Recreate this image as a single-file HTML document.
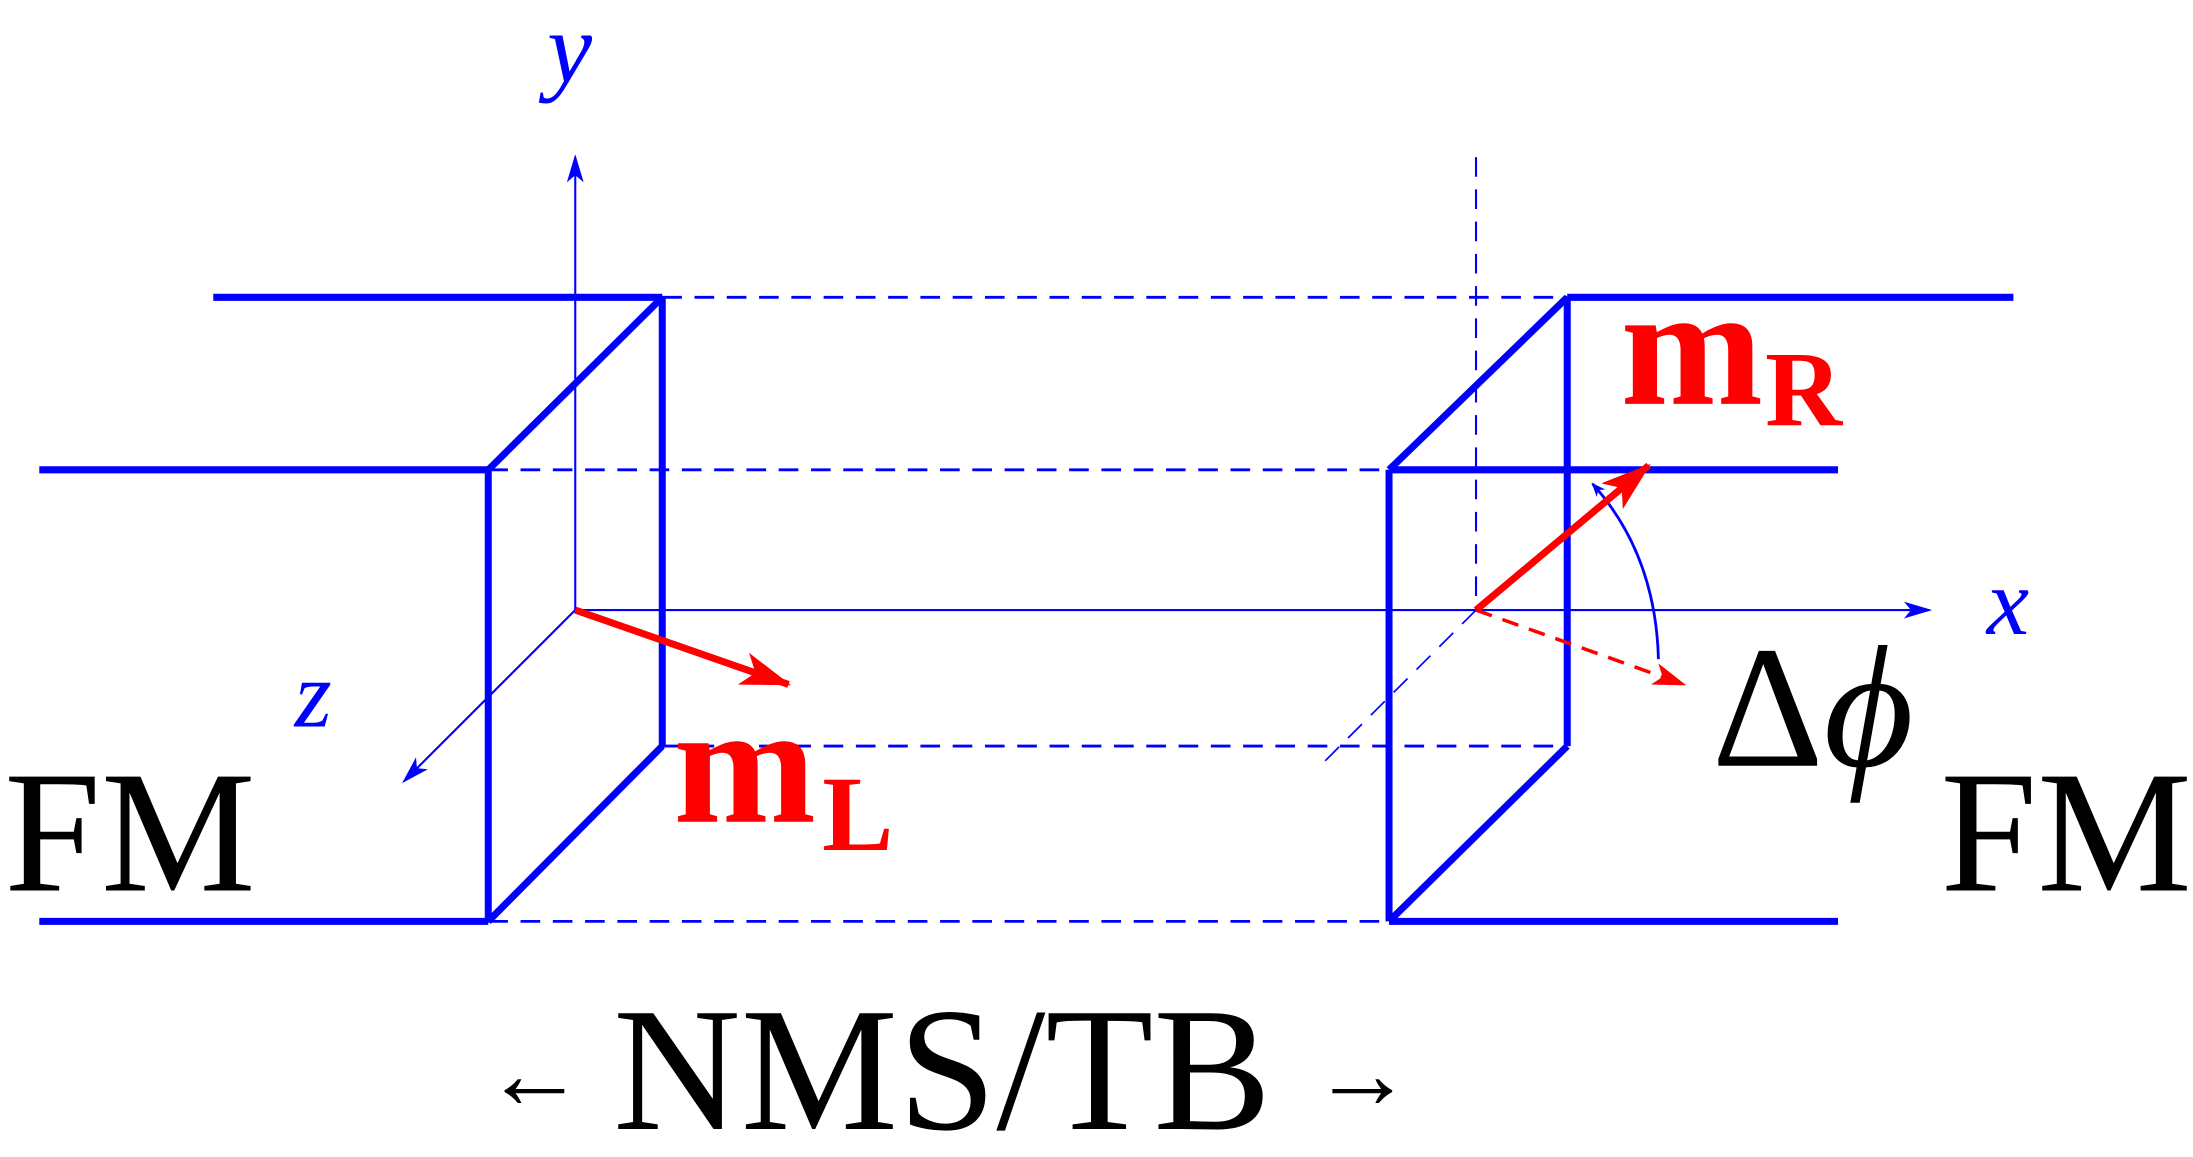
<!DOCTYPE html>
<html><head><meta charset="utf-8"><style>
html,body{margin:0;padding:0;background:#fff;}
svg{display:block;}
text{font-family:"Liberation Serif","DejaVu Serif",serif;}
</style></head><body>
<svg width="2193" height="1157" viewBox="0 0 1563 825" preserveAspectRatio="none" xmlns="http://www.w3.org/2000/svg">
<defs>
<marker id="ab" markerWidth="10" markerHeight="8" refX="9" refY="4" orient="auto" markerUnits="userSpaceOnUse"><path d="M0,0 L10,4 L0,8 L3,4 z" fill="#0000ff"/></marker>
<marker id="ab2" markerWidth="20" markerHeight="12" refX="18" refY="6" orient="auto" markerUnits="userSpaceOnUse"><path d="M0,0 L20,6 L0,12 L5,6 z" fill="#0000ff"/></marker>
<marker id="ar" markerWidth="36" markerHeight="24" refX="34" refY="12" orient="auto" markerUnits="userSpaceOnUse"><path d="M0,0 L36,12 L0,24 L9,12 z" fill="#ff0000"/></marker>
<marker id="ar2" markerWidth="24" markerHeight="16" refX="22" refY="8" orient="auto" markerUnits="userSpaceOnUse"><path d="M0,0 L24,8 L0,16 L6,8 z" fill="#ff0000"/></marker>
</defs>
<g stroke="#0000ff" fill="none">
<line x1="410" y1="435" x2="410" y2="112" stroke-width="1.5" marker-end="url(#ab2)"/>
<line x1="410" y1="435" x2="1375" y2="435" stroke-width="1.5" marker-end="url(#ab2)"/>
<line x1="410" y1="435" x2="288" y2="557" stroke-width="1.5" marker-end="url(#ab2)"/>
<g stroke-width="2" stroke-dasharray="14,9">
<line x1="472" y1="212" x2="1117" y2="212"/>
<line x1="348" y1="335" x2="990" y2="335"/>
<line x1="472" y1="532" x2="1117" y2="532"/>
<line x1="348" y1="657" x2="990" y2="657"/>
<line x1="1052" y1="112" x2="1052" y2="435" stroke-width="1.5"/>
<line x1="1052" y1="435" x2="940" y2="547" stroke-width="1.2"/>
</g>
<g stroke-width="5">
<line x1="152" y1="212" x2="472" y2="212"/>
<line x1="28" y1="335" x2="348" y2="335"/>
<line x1="28" y1="657" x2="348" y2="657"/>
<line x1="348" y1="335" x2="348" y2="657"/>
<line x1="472" y1="212" x2="472" y2="532"/>
<line x1="348" y1="335" x2="472" y2="212"/>
<line x1="348" y1="657" x2="472" y2="532"/>
<line x1="1117" y1="212" x2="1435" y2="212"/>
<line x1="990" y1="335" x2="1310" y2="335"/>
<line x1="990" y1="657" x2="1310" y2="657"/>
<line x1="990" y1="335" x2="990" y2="657"/>
<line x1="1117" y1="212" x2="1117" y2="532"/>
<line x1="990" y1="335" x2="1117" y2="212"/>
<line x1="990" y1="657" x2="1117" y2="532"/>
</g>
<path d="M1182,470 Q1180,395 1135,345" stroke-width="2" marker-end="url(#ab)"/>
</g>
<line x1="410" y1="435" x2="562" y2="488" stroke="#ff0000" stroke-width="5" marker-end="url(#ar)"/>
<line x1="1052" y1="435" x2="1175" y2="332" stroke="#ff0000" stroke-width="5" marker-end="url(#ar)"/>
<line x1="1052" y1="435" x2="1200" y2="488" stroke="#ff0000" stroke-width="2.5" stroke-dasharray="12,8" marker-end="url(#ar2)"/>
<g fill="#0000ff" font-style="italic">
<text x="390" y="58" font-size="72">y</text>
<text x="1416" y="452" font-size="68">x</text>
<text x="210" y="518" font-size="68">z</text>
</g>
<g fill="#ff0000" font-weight="bold">
<text x="480" y="586" font-size="122">m</text><text x="586" y="606" font-size="76">L</text>
<text x="1155" y="288" font-size="122">m</text><text x="1258" y="303" font-size="76">R</text>
</g>
<g fill="#000">
<text x="1220" y="546" font-size="124">Δ<tspan font-style="italic">ϕ</tspan></text>
<text x="3" y="635" font-size="124">FM</text>
<text x="1383" y="635" font-size="124">FM</text>
<text x="345" y="790" font-size="72">←</text>
<text x="437" y="805" font-size="126">NMS/TB</text>
<text x="935" y="790" font-size="72">→</text>
</g>
</svg>
</body></html>
